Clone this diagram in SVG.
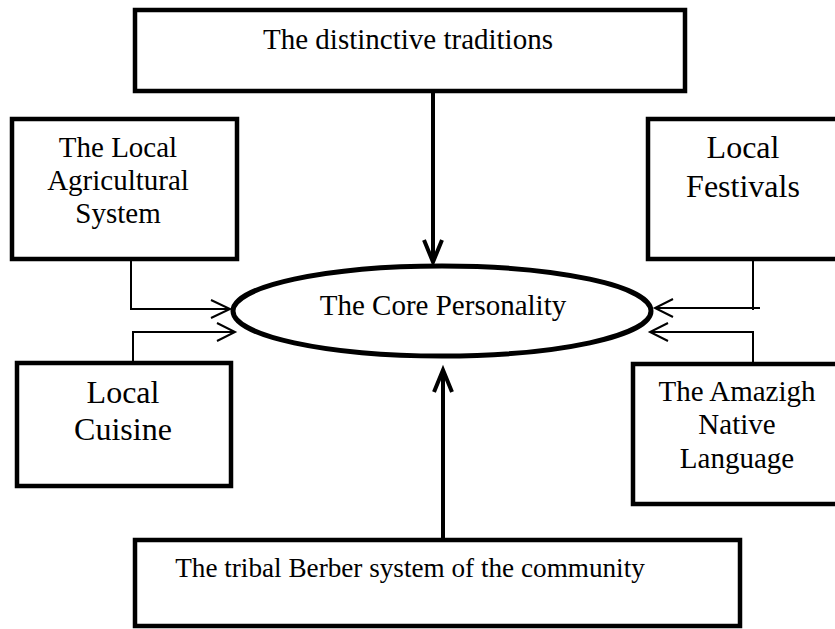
<svg xmlns="http://www.w3.org/2000/svg" width="835" height="629" viewBox="0 0 835 629">
<style>
.box{fill:#fff;stroke:#000;stroke-width:4.5}
.t{font-family:"Liberation Serif","Times New Roman",serif;fill:#000;text-anchor:middle}
.thin{fill:none;stroke:#000;stroke-width:2}
.thick{fill:none;stroke:#000;stroke-width:4}
</style>
<rect width="835" height="629" fill="#fff"/>
<g id="node-traditions">
<rect class="box" x="135" y="10" width="550" height="81"/>
<text class="t" x="408" y="49" font-size="29">The distinctive traditions</text>
</g>
<g id="node-agri">
<rect class="box" x="12" y="119" width="225" height="140"/>
<text class="t" x="118" y="157" font-size="29">The Local</text>
<text class="t" x="118" y="190" font-size="29">Agricultural</text>
<text class="t" x="118" y="223" font-size="29">System</text>
</g>
<g id="node-festivals">
<rect class="box" x="648" y="119" width="200" height="140"/>
<text class="t" x="743" y="158" font-size="32">Local</text>
<text class="t" x="743" y="197" font-size="32">Festivals</text>
</g>
<g id="node-cuisine">
<rect class="box" x="17" y="363" width="214" height="123"/>
<text class="t" x="123" y="403" font-size="32">Local</text>
<text class="t" x="123" y="440" font-size="32">Cuisine</text>
</g>
<g id="node-amazigh">
<rect class="box" x="633" y="364" width="215" height="140"/>
<text class="t" x="737" y="401" font-size="29">The Amazigh</text>
<text class="t" x="737" y="434" font-size="29">Native</text>
<text class="t" x="737" y="468" font-size="29">Language</text>
</g>
<g id="node-tribal">
<rect class="box" x="135" y="540" width="605" height="86"/>
<text class="t" x="410" y="577" font-size="27.2">The tribal Berber system of the community</text>
</g>
<g id="node-core">
<ellipse cx="442" cy="311" rx="209" ry="45" fill="#fff" stroke="#000" stroke-width="5"/>
<text class="t" x="443" y="315" font-size="29">The Core Personality</text>
</g>
<g id="connectors">
<line class="thick" x1="433" y1="91" x2="433" y2="262"/>
<polyline class="thick" points="424,240 433,262 442,240"/>
<line class="thick" x1="443" y1="540" x2="443" y2="370"/>
<polyline class="thick" points="434,392 443,370 452,392"/>
<polyline class="thin" points="131,259 131,309 230,309"/>
<polyline class="thin" points="211,300 230,309 211,318"/>
<polyline class="thin" points="133,363 133,332 235,332"/>
<polyline class="thin" points="217,323 235,332 217,341"/>
<polyline class="thin" points="753,259 753,310"/>
<line class="thin" x1="760" y1="308" x2="655" y2="308"/>
<polyline class="thin" points="673,299 655,308 673,317"/>
<polyline class="thin" points="753,364 753,332 650,332"/>
<polyline class="thin" points="668,323 650,332 668,341"/>
</g>
</svg>
